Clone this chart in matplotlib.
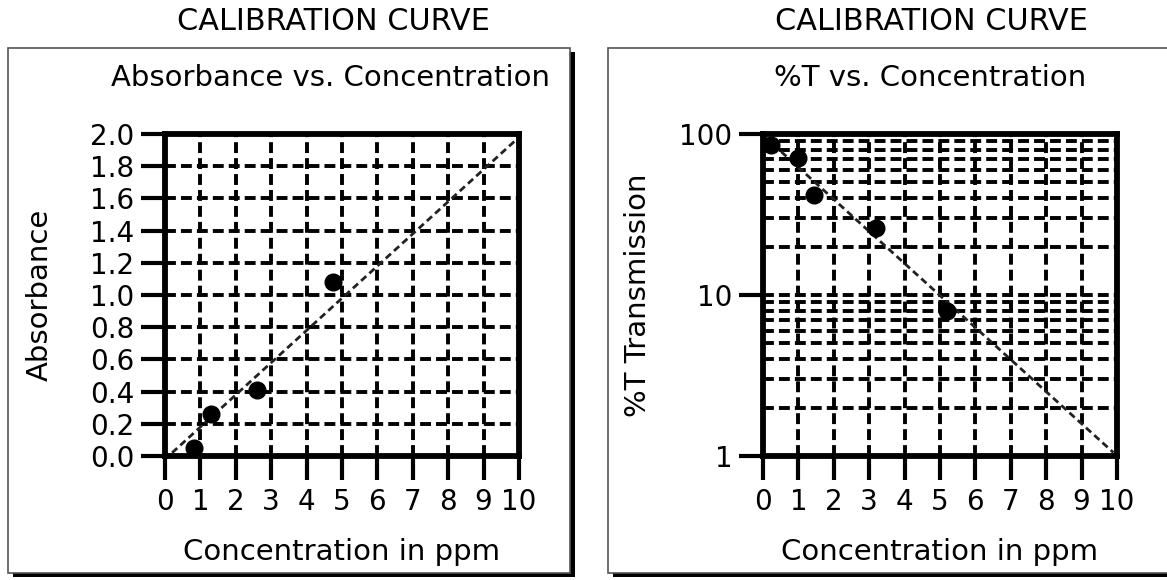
import matplotlib
matplotlib.use("Agg")
import matplotlib.pyplot as plt
from matplotlib.patches import Rectangle
from matplotlib.ticker import FixedLocator, NullFormatter, LogLocator

# ---- data ----
abs_conc = [0.82, 1.3, 2.6, 4.75]
abs_vals = [0.05, 0.26, 0.41, 1.08]
abs_fit_x = [0.2, 9.95]
abs_fit_y = [0.02, 1.97]
abs_yticks = [0.0, 0.2, 0.4, 0.6, 0.8, 1.0, 1.2, 1.4, 1.6, 1.8, 2.0]
abs_ylabels = ["0.0", "0.2", "0.4", "0.6", "0.8", "1.0", "1.2", "1.4", "1.6", "1.8", "2.0"]

t_conc = [0.23, 1.0, 1.43, 3.2, 5.2]
t_vals = [86, 71, 42, 26, 7.9]
t_fit_x = [0.05, 9.9]
t_fit_y = [96, 1.05]
t_yticks = [1, 10, 100]
t_ylabels = ["1", "10", "100"]

x_ticks = list(range(0, 11))
x_labels = [str(v) for v in x_ticks]

FONT = ["DejaVu Sans"]
W, H = 1167, 580
fig = plt.figure(figsize=(W / 100, H / 100), dpi=100)

def fx(px):
    return px / W

def fy(py):
    return 1 - py / H

def panel_box(x0, y0, x1, y1):
    fig.patches.append(Rectangle((fx(x0 + 5), fy(y1 + 4)), fx(x1 - x0), (y1 - y0) / H,
                                 transform=fig.transFigure, facecolor="black",
                                 edgecolor="none", zorder=0))
    fig.patches.append(Rectangle((fx(x0), fy(y1)), fx(x1 - x0), (y1 - y0) / H,
                                 transform=fig.transFigure, facecolor="white",
                                 edgecolor="#555555", linewidth=1.2, zorder=0.5))

panel_box(8, 48, 570, 573)
panel_box(608, 48, 1175, 573)

grid_kw = dict(color="black", linewidth=2.8, linestyle=(0, (2.8, 1.3)))

def style_axes(ax):
    ax.set_zorder(5)
    for s in ax.spines.values():
        s.set_linewidth(4.2)
    ax.tick_params(axis="both", which="major", direction="out", length=17, width=3,
                   labelsize=20, pad=5)
    ax.tick_params(axis="both", which="minor", length=0)
    ax.set_xlim(0, 10)
    ax.set_xticks(x_ticks)
    ax.set_xticklabels(x_labels, family=FONT)
    ax.tick_params(axis="x", pad=6)

# ---- left panel ----
ax1 = fig.add_axes([fx(165), fy(456), fx(519 - 165), (456 - 134) / H])
ax1.set_ylim(0, 2.0)
ax1.set_yticks(abs_yticks)
ax1.set_yticklabels(abs_ylabels, family=FONT)
style_axes(ax1)
for v in x_ticks[1:-1]:
    ax1.axvline(v, zorder=1, **grid_kw)
for v in abs_yticks[1:-1]:
    ax1.axhline(v, zorder=1, **grid_kw)
ax1.plot(abs_fit_x, abs_fit_y, color="#222222", linewidth=2.0,
         linestyle=(0, (2.5, 1.5)), zorder=2)
ax1.plot(abs_conc, abs_vals, "o", color="black", markersize=12, zorder=3)
ax1.set_xlabel("Concentration in ppm", family=FONT, fontsize=21, labelpad=16)
ax1.set_ylabel("Absorbance", family=FONT, fontsize=21, labelpad=26)

# ---- right panel ----
ax2 = fig.add_axes([fx(763), fy(456), fx(1117 - 763), (456 - 134) / H])
ax2.set_yscale("log")
ax2.set_ylim(1, 100)
ax2.yaxis.set_major_locator(FixedLocator(t_yticks))
ax2.set_yticklabels(t_ylabels, family=FONT)
ax2.yaxis.set_minor_locator(LogLocator(base=10, subs=range(2, 10)))
ax2.yaxis.set_minor_formatter(NullFormatter())
style_axes(ax2)
for v in x_ticks[1:-1]:
    ax2.axvline(v, zorder=1, **grid_kw)
minor_vals = [m * d for d in (1, 10) for m in range(2, 10)] + [10]
for v in minor_vals:
    ax2.axhline(v, zorder=1, **grid_kw)
ax2.plot(t_fit_x, t_fit_y, color="#222222", linewidth=2.0,
         linestyle=(0, (2.5, 1.5)), zorder=2)
ax2.plot(t_conc, t_vals, "o", color="black", markersize=12, zorder=3)
ax2.set_xlabel("Concentration in ppm", family=FONT, fontsize=21, labelpad=16)
ax2.set_ylabel("%T Transmission", family=FONT, fontsize=21, labelpad=20)

# ---- titles ----
fig.text(fx(333), fy(22), "CALIBRATION CURVE", family=FONT, fontsize=21.8,
         ha="center", va="center")
fig.text(fx(550), fy(78), "Absorbance vs. Concentration", family=FONT, fontsize=21,
         ha="right", va="center")
fig.text(fx(931), fy(22), "CALIBRATION CURVE", family=FONT, fontsize=21.8,
         ha="center", va="center")
fig.text(fx(930), fy(78), "%T vs. Concentration", family=FONT, fontsize=21,
         ha="center", va="center")

fig.savefig("out.png", dpi=100)
